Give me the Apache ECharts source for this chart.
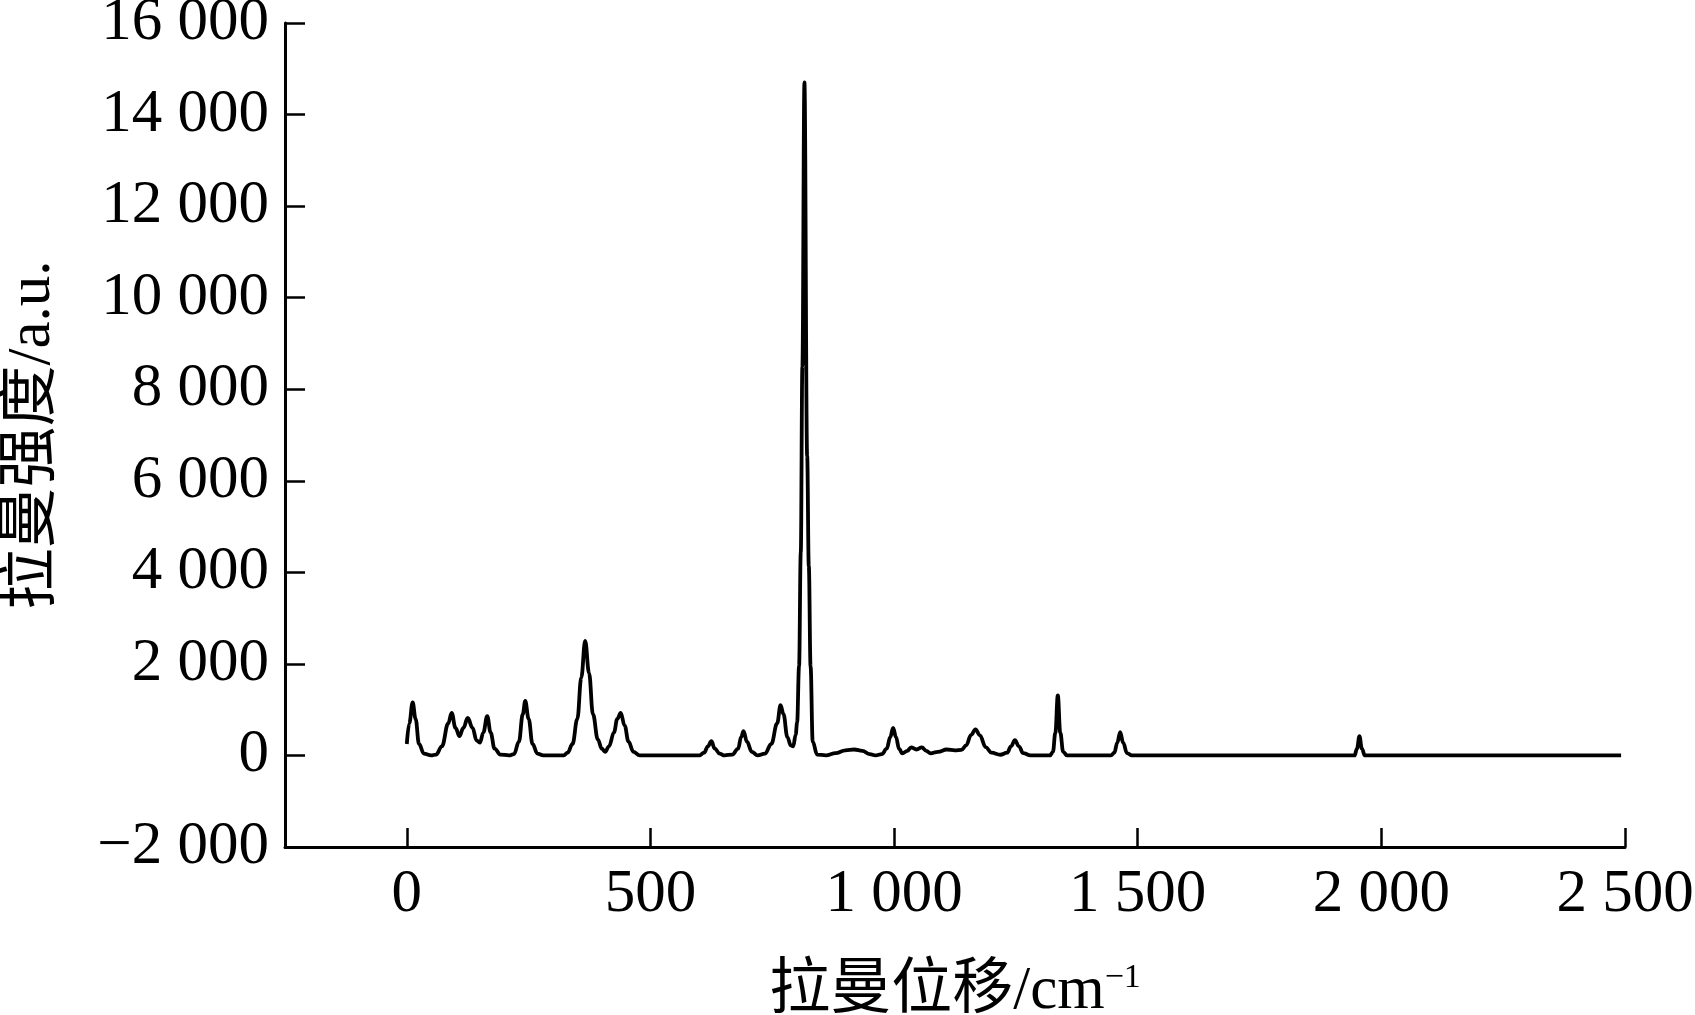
<!DOCTYPE html>
<html>
<head>
<meta charset="utf-8">
<script src="https://cdn.jsdelivr.net/npm/echarts@6/dist/echarts.min.js"></script>
<style>
html,body{margin:0;padding:0;background:#fff;}
#c{width:1695px;height:1015px;}
</style>
</head>
<body>
<div id="c"></div>
<script>
// Raman shift (cm^-1) and intensity (a.u.)
const ramanShift = [0,5,12,18,25,35,50,60,72,85,92,100,108,116,125,135,143,150,157,165,172,180,192,210,220,230,238,243,250,258,268,280,322,330,340,350,358,366,374,382,392,400,407,415,425,432,439,447,455,465,478,600,610,618,625,632,642,652,668,680,686,691,698,708,720,735,748,760,767,773,781,788,793,798,801,805,808.5,811.8,816,821.6,825,828.6,833,842,860,880,900,918,935,950,962,975,985,992,998,1004,1010,1017,1027,1035,1046,1057,1066,1075,1090,1108,1125,1138,1148,1158,1167,1176,1188,1200,1218,1232,1240,1248,1256,1265,1280,1320,1326,1331,1336,1341,1347,1355,1445,1452,1458,1464,1470,1478,1488,1945,1950,1955,1960,1966,2492];
const intensity = [250,700,1160,800,250,40,0,20,200,700,930,600,420,600,820,600,330,280,500,860,500,150,20,0,30,300,900,1190,800,250,40,0,0,60,250,800,1700,2500,1800,900,350,150,80,200,500,800,930,650,300,80,0,0,60,200,310,150,40,0,20,150,400,530,300,80,0,40,250,700,1100,900,400,220,200,450,720,1950,4430,8500,14700,6540,4135,1950,300,20,0,50,110,130,100,30,0,30,150,400,600,400,150,45,100,175,130,175,100,45,80,130,110,120,220,450,570,440,180,60,15,60,200,335,200,50,0,0,80,500,1310,500,80,0,0,60,280,510,280,50,0,0,150,420,150,0,0];
const xTicks = [0,500,1000,1500,2000,2500];
const yTicks = [-2000,0,2000,4000,6000,8000,10000,12000,14000,16000];

function fmt(v){
  const neg = v < 0;
  let s = String(Math.abs(v));
  if (s.length > 3) s = s.slice(0, s.length-3) + ' ' + s.slice(s.length-3);
  return (neg ? '\u2212' : '') + s;
}

const chart = echarts.init(document.getElementById('c'), null, {renderer:'canvas'});
const serif = '"Liberation Serif","Times New Roman","Noto Sans CJK SC",serif';
chart.setOption({
  animation:false,
  backgroundColor:'#fff',
  grid:{left:285,right:70,top:23,bottom:168,containLabel:false,outerBoundsMode:'none'},
  xAxis:{
    type:'value', min:-250, max:2500, splitNumber:5,
    axisLine:{show:true,onZero:false,lineStyle:{color:'#000',width:3}},
    axisTick:{show:true,inside:true,length:19,lineStyle:{color:'#000',width:2.5}},
    splitLine:{show:false},
    axisLabel:{color:'#000',fontFamily:serif,fontSize:61,margin:17,hideOverlap:false,
      formatter:function(v){return xTicks.indexOf(v)>=0?fmt(v):'';}},
    name:'拉曼位移/cm{sup|\u22121}', nameLocation:'middle', nameGap:114,
    nameTextStyle:{color:'#000',fontFamily:serif,fontSize:61,
      rich:{sup:{fontFamily:serif,fontSize:34,color:'#000',verticalAlign:'top'}}}
  },
  yAxis:{
    type:'value', min:-2000, max:16000, interval:2000,
    axisLine:{show:true,onZero:false,lineStyle:{color:'#000',width:3}},
    axisTick:{show:true,inside:true,length:20,lineStyle:{color:'#000',width:2.5}},
    splitLine:{show:false},
    axisLabel:{color:'#000',fontFamily:serif,fontSize:61,margin:16,
      formatter:function(v){return yTicks.indexOf(v)>=0?fmt(v):'';}},
    name:'拉曼强度/a.u.', nameLocation:'middle', nameGap:222,
    nameTextStyle:{color:'#000',fontFamily:serif,fontSize:61}
  },
  series:[{
    type:'line',
    data: ramanShift.map((x,i)=>[x,intensity[i]]),
    showSymbol:false, smooth:0.4, smoothMonotone:'x',
    lineStyle:{color:'#000',width:3.8}
  }]
});
</script>
</body>
</html>
